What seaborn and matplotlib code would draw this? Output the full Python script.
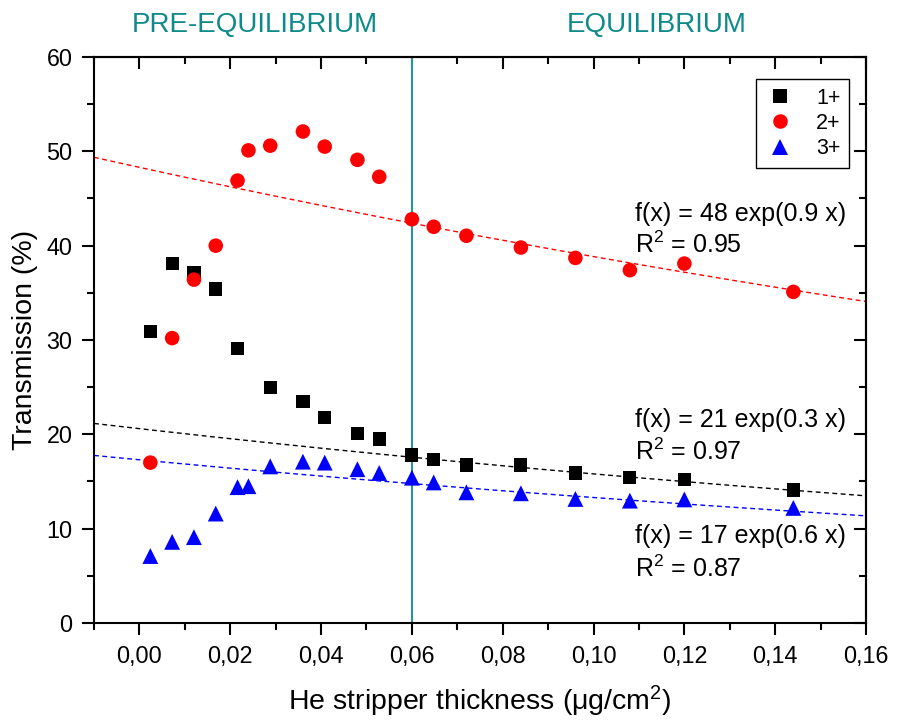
import numpy as np
import pandas as pd
import matplotlib
matplotlib.use("Agg")
import matplotlib.pyplot as plt
import matplotlib.transforms as mtransforms
from matplotlib.ticker import MultipleLocator, FuncFormatter
import seaborn as sns

# He stripper thickness (ug/cm^2) and transmission (%) for each charge state
x_1p = [0.0024, 0.0072, 0.0120, 0.0168, 0.0216, 0.0288, 0.0360, 0.0408, 0.0480,
        0.0528, 0.0600, 0.0648, 0.0720, 0.0840, 0.0960, 0.1080, 0.1200, 0.1440]
t_1p = [30.9, 38.1, 37.1, 35.4, 29.1, 25.0, 23.5, 21.8, 20.1,
        19.5, 17.8, 17.3, 16.75, 16.75, 15.9, 15.4, 15.2, 14.1]

x_2p = [0.0024, 0.0072, 0.0120, 0.0168, 0.0216, 0.0240, 0.0288, 0.0360, 0.0408, 0.0480,
        0.0528, 0.0600, 0.0648, 0.0720, 0.0840, 0.0960, 0.1080, 0.1200, 0.1440]
t_2p = [17.0, 30.2, 36.4, 40.0, 46.9, 50.1, 50.6, 52.1, 50.5, 49.1,
        47.3, 42.8, 42.0, 41.05, 39.8, 38.7, 37.4, 38.1, 35.1]

x_3p = [0.0024, 0.0072, 0.0120, 0.0168, 0.0216, 0.0240, 0.0288, 0.0360, 0.0408, 0.0480,
        0.0528, 0.0600, 0.0648, 0.0720, 0.0840, 0.0960, 0.1080, 0.1200, 0.1440]
t_3p = [7.1, 8.6, 9.1, 11.6, 14.4, 14.5, 16.6, 17.1, 17.0, 16.3,
        15.9, 15.4, 14.9, 13.85, 13.75, 13.15, 12.97, 13.1, 12.2]

charges = ["1+", "2+", "3+"]
colors = ["#000000", "#ff0000", "#0000ff"]
markers = ["s", "o", "^"]

# exponential fits to the equilibrium region: T = A * exp(-k x)
fit_amp = [20.6, 48.3, 17.3]
fit_rate = [2.65, 2.18, 2.63]
fit_eq = ["f(x) = 21 exp(0.3 x)", "f(x) = 48 exp(0.9 x)", "f(x) = 17 exp(0.6 x)"]
fit_r2 = ["0.97", "0.95", "0.87"]
fit_label_pos = [(0.1092, 21.5, 18.2), (0.1092, 43.4, 40.1), (0.1092, 9.25, 5.7)]

x_equilibrium = 0.06
region_labels = ["PRE-EQUILIBRIUM", "EQUILIBRIUM"]
region_label_x = [0.0253, 0.1138]

sns.set_theme(style="white")
plt.rcParams["font.family"] = ["Liberation Sans", "DejaVu Sans"]
plt.rcParams["mathtext.fontset"] = "custom"
plt.rcParams["mathtext.rm"] = "Liberation Sans"
plt.rcParams["mathtext.it"] = "Liberation Sans:italic"
plt.rcParams["mathtext.bf"] = "Liberation Sans:bold"
plt.rcParams["text.color"] = "black"
plt.rcParams["axes.labelcolor"] = "black"
plt.rcParams["xtick.color"] = "black"
plt.rcParams["ytick.color"] = "black"

df = pd.concat([
    pd.DataFrame({"x": x_1p, "T": t_1p, "charge": "1+"}),
    pd.DataFrame({"x": x_2p, "T": t_2p, "charge": "2+"}),
    pd.DataFrame({"x": x_3p, "T": t_3p, "charge": "3+"}),
], ignore_index=True)

fig = plt.figure(figsize=(8.99, 7.25), dpi=100)
ax = fig.add_axes([0.1046, 0.1407, 0.9633 - 0.1046, 0.9214 - 0.1407])

xmin, xmax = -0.01, 0.16
xx = np.linspace(xmin, xmax, 200)
for amp, k, c in zip(fit_amp, fit_rate, colors):
    sns.lineplot(x=xx, y=amp * np.exp(-k * xx), ax=ax, color=c, lw=1.0,
                 linestyle=(0, (3.5, 2.5)), zorder=2)

ax.axvline(x_equilibrium, color="#2b9494", lw=1.5, zorder=1)

sns.scatterplot(data=df, x="x", y="T", hue="charge", style="charge", size="charge",
                hue_order=charges, style_order=charges, size_order=charges,
                palette=dict(zip(charges, colors)),
                markers=dict(zip(charges, markers)),
                sizes={"1+": 90, "2+": 110, "3+": 130},
                linewidth=0, ax=ax, zorder=3, legend="full")

ax.set_xlim(xmin, xmax)
ax.set_ylim(0, 60)
ax.xaxis.set_major_locator(MultipleLocator(0.02))
ax.xaxis.set_minor_locator(MultipleLocator(0.01))
ax.yaxis.set_major_locator(MultipleLocator(10))
ax.yaxis.set_minor_locator(MultipleLocator(5))
ax.xaxis.set_major_formatter(FuncFormatter(lambda v, p: f"{v:.2f}".replace(".", ",").replace("-0,00", "0,00")))
ax.yaxis.set_major_formatter(FuncFormatter(lambda v, p: f"{v:.0f}"))

for s in ax.spines.values():
    s.set_linewidth(1.5)
    s.set_color("black")

ax.tick_params(which="both", bottom=True, left=True, top=False, right=False,
               direction="out", width=1.5, colors="black", labelsize=16.8)
ax.tick_params(which="major", length=8.5, pad=7)
ax.tick_params(which="minor", length=4.8)

# mirrored ticks on the top and right axes, pointing inward
sec_x = ax.secondary_xaxis("top")
sec_x.xaxis.set_major_locator(MultipleLocator(0.02))
sec_x.xaxis.set_minor_locator(MultipleLocator(0.01))
sec_x.tick_params(which="both", direction="in", width=1.5, labeltop=False, colors="black")
sec_x.tick_params(which="major", length=8.5)
sec_x.tick_params(which="minor", length=4.8)
sec_x.spines["top"].set_linewidth(1.5)
sec_y = ax.secondary_yaxis("right")
sec_y.yaxis.set_major_locator(MultipleLocator(10))
sec_y.yaxis.set_minor_locator(MultipleLocator(5))
sec_y.tick_params(which="both", direction="in", width=1.5, labelright=False, colors="black")
sec_y.tick_params(which="major", length=8.5)
sec_y.tick_params(which="minor", length=4.8)
sec_y.spines["right"].set_linewidth(1.5)

ax.set_xlabel("He stripper thickness (\u03bcg/cm$^2$)", fontsize=20.5, labelpad=12)
ax.set_ylabel("Transmission (%)", fontsize=20.5, labelpad=6)

for (lx, ly1, ly2), eq, r2 in zip(fit_label_pos, fit_eq, fit_r2):
    ax.text(lx, ly1, eq, fontsize=18, color="black", va="center", ha="left")
    ax.text(lx, ly2, "R$^2$ = " + r2, fontsize=18, color="black", va="center", ha="left")

trans = mtransforms.blended_transform_factory(ax.transData, fig.transFigure)
for lab, lx in zip(region_labels, region_label_x):
    ax.text(lx, 1 - 25 / 725, lab, transform=trans, fontsize=20, color="#0e8a8a",
            ha="center", va="center")

handles, labels = ax.get_legend_handles_labels()
ax.get_legend().remove()
leg = ax.legend(handles, labels, loc="upper right", bbox_to_anchor=(0.978, 0.961),
                borderaxespad=0, frameon=True, fontsize=15.5, labelspacing=0.2,
                handlelength=1.5, handletextpad=0.9, borderpad=0.4, fancybox=False,
                edgecolor="black", framealpha=1)
leg.get_frame().set_linewidth(1.0)

fig.savefig("out.png", dpi=100, facecolor="white")
